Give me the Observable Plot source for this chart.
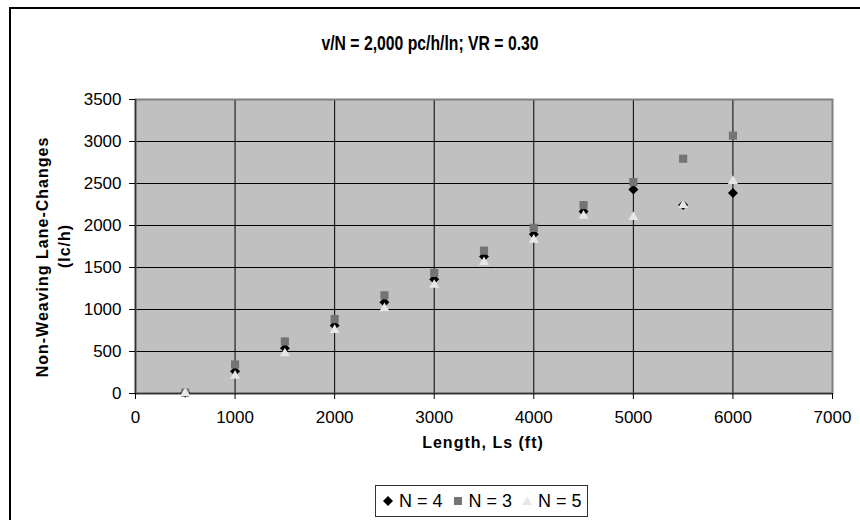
<!DOCTYPE html>
<html><head><meta charset="utf-8">
<script src="https://cdn.jsdelivr.net/npm/d3@7"></script>
<script src="https://cdn.jsdelivr.net/npm/@observablehq/plot@0.6"></script>
<style>
body{margin:0;background:#fff;font-family:"Liberation Sans",Arial,sans-serif;}
#wrap{position:relative;width:860px;height:520px;overflow:hidden;background:#fff;}
#wrap svg.plot{position:absolute;left:0;top:0;}
.bt{position:absolute;left:9px;top:7px;width:860px;height:0;border-top:2px solid #000;}
.bl{position:absolute;left:9px;top:7px;width:0;height:520px;border-left:2px solid #000;}
.title{position:absolute;left:430px;top:43px;transform:translate(-50%,-50%) scaleX(0.75);font-weight:bold;font-size:21px;color:#000;white-space:nowrap;}
.ylab{position:absolute;font-weight:bold;font-size:16px;letter-spacing:1px;white-space:nowrap;transform:translate(-50%,-50%) rotate(-90deg);}
.xlab{position:absolute;left:483px;top:443px;transform:translate(-50%,-50%);font-weight:bold;font-size:16px;letter-spacing:1px;white-space:nowrap;}
.legend{position:absolute;left:375px;top:485px;width:213px;height:32px;border:1px solid #333;box-sizing:border-box;display:flex;align-items:center;font-size:18px;white-space:nowrap;padding-left:6px;}
.legend span.item{display:inline-flex;align-items:center;margin-right:9px;}
.legend svg{margin-right:5px;}
</style></head><body>
<div id="wrap"></div>
<script>
// Data
const lengths = [500, 1000, 1500, 2000, 2500, 3000, 3500, 4000, 4500, 5000, 5500, 6000];
const laneN4 = [10, 266, 540, 811, 1086, 1360, 1630, 1897, 2167, 2429, 2245, 2386];
const laneN3 = [10, 346, 620, 886, 1169, 1435, 1701, 1972, 2243, 2517, 2795, 3070];
const laneN5 = [5, 210, 477, 755, 1014, 1292, 1563, 1829, 2115, 2100, 2243, 2529];
const seriesNames = ["N = 4", "N = 3", "N = 5"];
const xTicks = [0, 1000, 2000, 3000, 4000, 5000, 6000, 7000];
const yTicks = [0, 500, 1000, 1500, 2000, 2500, 3000, 3500];
const titleText = "v/N = 2,000 pc/h/ln; VR = 0.30";
const xLabel = "Length, Ls (ft)";
const yLabel1 = "Non-Weaving Lane-Changes";
const yLabel2 = "(lc/h)";

const styles = [
  {symbol: "diamond2", fill: "#000000", r: 4.5},
  {symbol: "square", fill: "#747474", r: 4.6},
  {symbol: "triangle", fill: "#e6e6e6", r: 3.7}
];
const seriesValues = [laneN4, laneN3, laneN5];
const rows = [];
seriesValues.forEach((vals, i) => vals.forEach((v, j) => rows.push({x: lengths[j], y: v, s: seriesNames[i]})));

const dotMarks = seriesNames.map((name, i) =>
  Plot.dot(rows.filter(d => d.s === name), {x: "x", y: "y", symbol: () => styles[i].symbol, fill: styles[i].fill, stroke: "none", r: styles[i].r})
);

const chart = Plot.plot({
  width: 860, height: 520,
  marginLeft: 135, marginRight: 28, marginTop: 99, marginBottom: 127,
  style: {fontFamily: '"Liberation Sans", Arial, sans-serif', fontSize: "17px", color: "#000", background: "transparent"},
  x: {domain: [0, 7000], ticks: xTicks},
  y: {domain: [0, 3500], ticks: yTicks},
  symbol: {type: "identity"},
  marks: [
    Plot.frame({fill: "#c0c0c0", stroke: "none"}),
    Plot.gridX(xTicks.slice(1, -1), {stroke: "#000", strokeOpacity: 1, strokeWidth: 1}),
    Plot.gridY(yTicks.slice(1, -1), {stroke: "#000", strokeOpacity: 1, strokeWidth: 1}),
    Plot.frame({stroke: "#808080", strokeWidth: 2}),
    Plot.ruleY([0], {stroke: "#333", strokeWidth: 1.5}),
    Plot.ruleX([0], {stroke: "#333", strokeWidth: 1.5}),
    Plot.axisX({ticks: xTicks, tickSize: 6, tickPadding: 11, label: null, tickFormat: d => String(d), fontSize: 17}),
    Plot.axisY({ticks: yTicks, tickSize: 6, tickPadding: 8, label: null, tickFormat: d => String(d), fontSize: 17}),
    ...dotMarks
  ]
});
chart.classList.add("plot");
const wrap = document.getElementById("wrap");
wrap.appendChild(chart);

function add(cls, text, css) {
  const d = document.createElement("div");
  d.className = cls;
  if (text != null) d.textContent = text;
  if (css) Object.assign(d.style, css);
  wrap.appendChild(d);
  return d;
}
add("bt"); add("bl");
add("title", titleText);
add("xlab", xLabel);
add("ylab", yLabel1, {left: "43px", top: "257px"});
add("ylab", yLabel2, {left: "65px", top: "246px"});

const legend = add("legend");
const glyphPaths = {
  "diamond2": "M0,-5L5,0L0,5L-5,0Z",
  "square": "M-4,-4H4V4H-4Z",
  "triangle": "M0,-4.5L5,4L-5,4Z"
};
seriesNames.forEach((name, i) => {
  const item = document.createElement("span");
  item.className = "item";
  item.innerHTML = `<svg width="12" height="12" viewBox="-6 -6 12 12"><path d="${glyphPaths[styles[i].symbol]}" fill="${styles[i].fill}"/></svg><span>${name}</span>`;
  legend.appendChild(item);
});
</script>
</body></html>
